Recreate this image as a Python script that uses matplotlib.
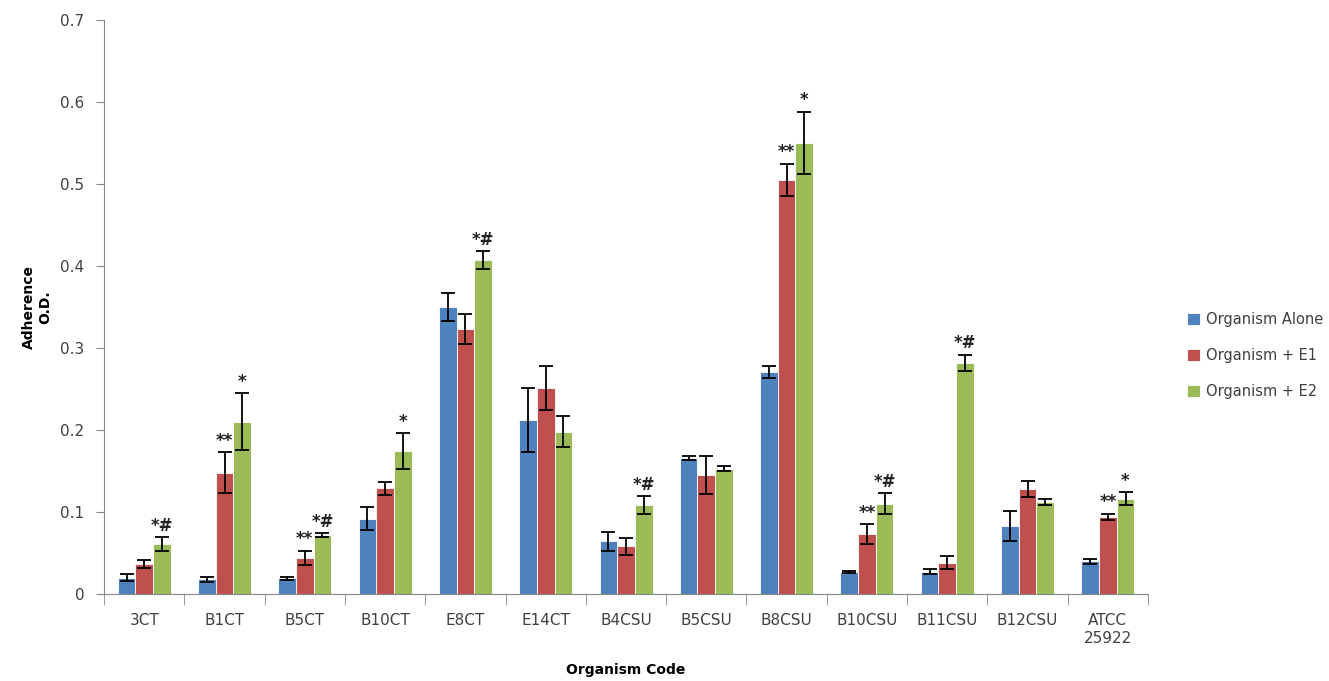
import numpy as np
import matplotlib.pyplot as plt

codes = ["3CT", "B1CT", "B5CT", "B10CT", "E8CT", "E14CT", "B4CSU", "B5CSU",
         "B8CSU", "B10CSU", "B11CSU", "B12CSU", "ATCC\n25922"]
series = ["Organism Alone", "Organism + E1", "Organism + E2"]

alone = [0.020, 0.018, 0.019, 0.092, 0.350, 0.212, 0.064, 0.166, 0.271, 0.027, 0.027, 0.083, 0.040]
alone_err = [0.004, 0.003, 0.002, 0.014, 0.017, 0.039, 0.012, 0.002, 0.007, 0.001, 0.003, 0.018, 0.003]
e1 = [0.037, 0.148, 0.044, 0.129, 0.323, 0.251, 0.058, 0.145, 0.505, 0.073, 0.038, 0.128, 0.094]
e1_err = [0.005, 0.025, 0.009, 0.008, 0.018, 0.027, 0.010, 0.023, 0.020, 0.012, 0.008, 0.010, 0.004]
e2 = [0.061, 0.210, 0.072, 0.174, 0.407, 0.198, 0.108, 0.153, 0.550, 0.110, 0.282, 0.112, 0.116]
e2_err = [0.008, 0.035, 0.002, 0.022, 0.011, 0.019, 0.011, 0.003, 0.038, 0.013, 0.010, 0.004, 0.008]

# significance marks (E1 series, E2 series)
e1_marks = ["", "**", "**", "", "", "", "", "", "**", "**", "", "", "**"]
e2_marks = ["*#", "*", "*#", "*", "*#", "", "*#", "", "*", "*#", "*#", "", "*"]

colors = ["#4F81BD", "#C0504D", "#9BBB59"]
txt = "#404040"

fig = plt.figure(figsize=(13.29, 6.81), dpi=100)
ax = fig.add_axes([0.0783, 0.1278, 0.7855, 0.8428])

x = np.arange(len(codes))
w = 0.22
vals = [alone, e1, e2]
errs = [alone_err, e1_err, e2_err]
for i in range(3):
    ax.bar(x + (i - 1) * w, vals[i], w, color=colors[i], edgecolor="white",
           linewidth=0.6, label=series[i], zorder=2)
    ax.errorbar(x + (i - 1) * w, vals[i], yerr=errs[i], fmt="none", ecolor="black",
                elinewidth=1.3, capsize=5, capthick=1.3, zorder=3)

for k in range(len(codes)):
    if e1_marks[k]:
        ax.text(x[k], e1[k] + e1_err[k] + 0.003, e1_marks[k], ha="center", va="bottom",
                fontsize=12, fontweight="bold", color="#222222")
    if e2_marks[k]:
        ax.text(x[k] + w, e2[k] + e2_err[k] + 0.003, e2_marks[k], ha="center", va="bottom",
                fontsize=12, fontweight="bold", color="#222222")

ax.set_xlim(-0.5, len(codes) - 0.5)
ax.set_ylim(0, 0.7)
ax.set_yticks(np.arange(0, 0.71, 0.1))
ax.set_yticklabels(["0", "0.1", "0.2", "0.3", "0.4", "0.5", "0.6", "0.7"], fontsize=11, color=txt)
ax.set_xticks(x)
ax.set_xticklabels(codes, fontsize=11, color=txt)
ax.tick_params(axis="x", length=0, pad=14)
ax.set_xticks(np.arange(-0.5, len(codes), 1), minor=True)
ax.tick_params(axis="x", which="minor", length=8, color="#868686")
ax.tick_params(axis="y", length=6, color="#868686", direction="out", pad=8)
for s in ["top", "right"]:
    ax.spines[s].set_visible(False)
for s in ["left", "bottom"]:
    ax.spines[s].set_color("#868686")

ax.set_ylabel("Adherence\nO.D.", fontsize=10, fontweight="bold", color="black")
ax.yaxis.set_label_coords(-0.05, 0.5)
ax.set_xlabel("Organism Code", fontsize=10, fontweight="bold", color="black")
ax.xaxis.set_label_coords(0.5, -0.12)

leg = ax.legend(loc="center left", bbox_to_anchor=(1.025, 0.415), frameon=False, fontsize=10.5,
                handlelength=0.9, handleheight=0.9, labelspacing=1.45, handletextpad=0.4)
for t in leg.get_texts():
    t.set_color(txt)

fig.savefig("out.png", dpi=100)
